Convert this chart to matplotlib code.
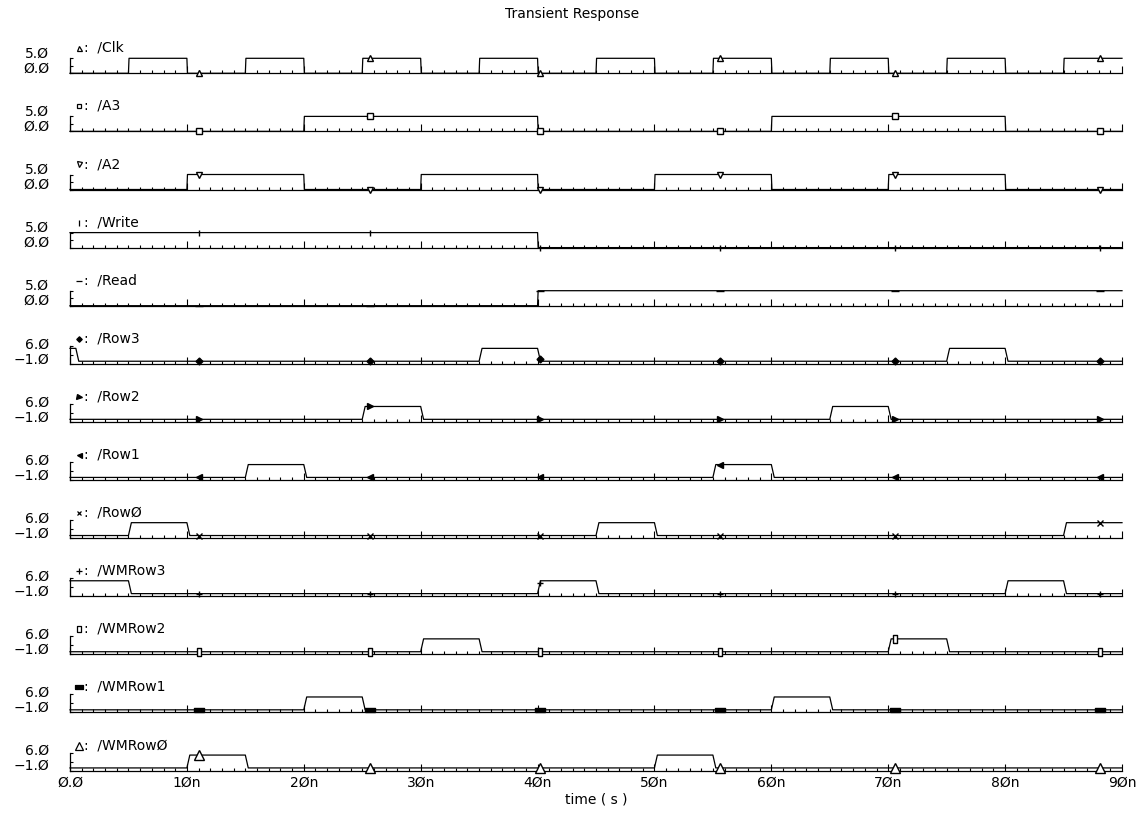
import numpy as np
import matplotlib
matplotlib.use('Agg')
import matplotlib.pyplot as plt
from matplotlib.lines import Line2D

plt.rcParams['font.family'] = ['DejaVu Sans']

W, H = 1146, 813

# señales y sus intervalos en alto (ns)
nombres = ['/Clk', '/A3', '/A2', '/Write', '/Read', '/Row3', '/Row2', '/Row1', '/RowØ',
           '/WMRow3', '/WMRow2', '/WMRow1', '/WMRowØ']
clk_alto = [(5, 10), (15, 20), (25, 30), (35, 40), (45, 50), (55, 60), (65, 70), (75, 80), (85, 90)]
a3_alto = [(20, 40), (60, 80)]
a2_alto = [(10, 20), (30, 40), (50, 60), (70, 80)]
write_alto = [(0, 40)]
read_alto = [(40, 90)]
row3_alto = [(0, 0.5), (35, 40), (75, 80)]
row2_alto = [(25, 30), (65, 70)]
row1_alto = [(15, 20), (55, 60)]
row0_alto = [(5, 10), (45, 50), (85, 90)]
wmrow3_alto = [(0, 5), (40, 45), (80, 85)]
wmrow2_alto = [(30, 35), (70, 75)]
wmrow1_alto = [(20, 25), (60, 65)]
wmrow0_alto = [(10, 15), (50, 55)]
intervalos = [clk_alto, a3_alto, a2_alto, write_alto, read_alto, row3_alto, row2_alto,
              row1_alto, row0_alto, wmrow3_alto, wmrow2_alto, wmrow1_alto, wmrow0_alto]

# tiempos donde se dibujan los marcadores (ns)
t_marcas = [11.0, 25.7, 40.2, 55.6, 70.6, 88.1]

x_ticks = [0, 10, 20, 30, 40, 50, 60, 70, 80, 90]
x_labels = ['Ø.Ø', '1Øn', '2Øn', '3Øn', '4Øn', '5Øn', '6Øn', '7Øn', '8Øn', '9Øn']

rect_alto = [(-0.45, -1), (0.45, -1), (0.45, 1), (-0.45, 1), (-0.45, -1)]
rect_ancho = [(-1, -0.4), (1, -0.4), (1, 0.4), (-1, 0.4), (-1, -0.4)]
marcadores = ['^', 's', 'v', '|', '_', 'D', '>', '<', 'x', '+', rect_alto, rect_ancho, '^']
tam = [4.5, 4, 4.5, 5, 6, 3.5, 4.5, 4.5, 4, 5, 6, 7, 7.5]
lleno = [False, False, False, True, True, True, True, True, True, True, False, True, False]


def onda(inter, flanco, alto=5.0):
    pts = [(0.0, 0.0)]
    for a, b in inter:
        if a == 0:
            pts = [(0.0, alto)]
        else:
            pts += [(a, 0.0), (a + flanco, alto)]
        if b < 90:
            pts += [(b, alto), (b + flanco, 0.0)]
        else:
            pts += [(90.0, alto)]
    if pts[-1][0] < 90:
        pts.append((90.0, 0.0))
    t, v = zip(*pts)
    return np.array(t), np.array(v)


fig = plt.figure(figsize=(W / 100, H / 100), dpi=100)
x0, x1 = 70, 1122

for i, (nombre, inter) in enumerate(zip(nombres, intervalos)):
    base = 73.3 + i * 58.1
    digital = i < 5
    alto_px = 15 if digital else 18
    ax = fig.add_axes([x0 / W, 1 - base / H, (x1 - x0) / W, alto_px / H])
    lo, hi = (0, 5) if digital else (-1, 6)
    t, v = onda(inter, 0.05 if digital else 0.25)
    ax.plot(t, v, color='black', lw=0.9, clip_on=False)
    ym = np.interp(t_marcas, t, v)
    ax.plot(t_marcas, ym, ls='none', marker=marcadores[i], ms=tam[i], mew=1.0,
            mec='black', mfc='black' if lleno[i] else 'white', clip_on=False, zorder=5)
    ax.set_xlim(0, 90)
    ax.set_ylim(lo, hi)
    for s in ['top', 'right']:
        ax.spines[s].set_visible(False)
    for s in ['bottom', 'left']:
        ax.spines[s].set_linewidth(0.9)
    ax.set_xticks(x_ticks)
    ax.set_xticks(np.arange(0, 91, 1), minor=True)
    ax.set_yticks([lo, (lo + hi) / 2, hi])
    ax.tick_params(axis='x', which='major', direction='in', length=5, width=0.8)
    ax.tick_params(axis='x', which='minor', direction='in', length=2.5, width=0.8)
    ax.tick_params(axis='y', direction='in', length=2.2, width=0.8, labelleft=False)
    ax.set_facecolor('none')
    if i == len(nombres) - 1:
        ax.set_xticklabels(x_labels, fontsize=10)
        ax.tick_params(axis='x', which='major', pad=4)
    else:
        ax.tick_params(axis='x', labelbottom=False)

    # etiquetas de escala y nombre de la señal
    top_txt, bot_txt = ('5.Ø', 'Ø.Ø') if digital else ('6.Ø', '−1.Ø')
    fig.text(49 / W, 1 - (base - 19.5) / H, top_txt, ha='right', va='center', fontsize=10)
    fig.text(49 / W, 1 - (base - 4.5) / H, bot_txt, ha='right', va='center', fontsize=10)
    fig.add_artist(Line2D([79 / W], [1 - (base - 25) / H], marker=marcadores[i],
                          ms=tam[i] * 0.8, mew=0.9, mec='black',
                          mfc='black' if lleno[i] else 'white', transform=fig.transFigure))
    fig.text(84 / W, 1 - (base - 25.5) / H, ':  ' + nombre, ha='left', va='center', fontsize=10)

fig.text(572 / W, 1 - 14 / H, 'Transient Response', ha='center', va='center', fontsize=10)
fig.text(596 / W, 1 - 799 / H, 'time ( s )', ha='center', va='center', fontsize=10)

plt.savefig('out.png', dpi=100, facecolor='white')
plt.close()
